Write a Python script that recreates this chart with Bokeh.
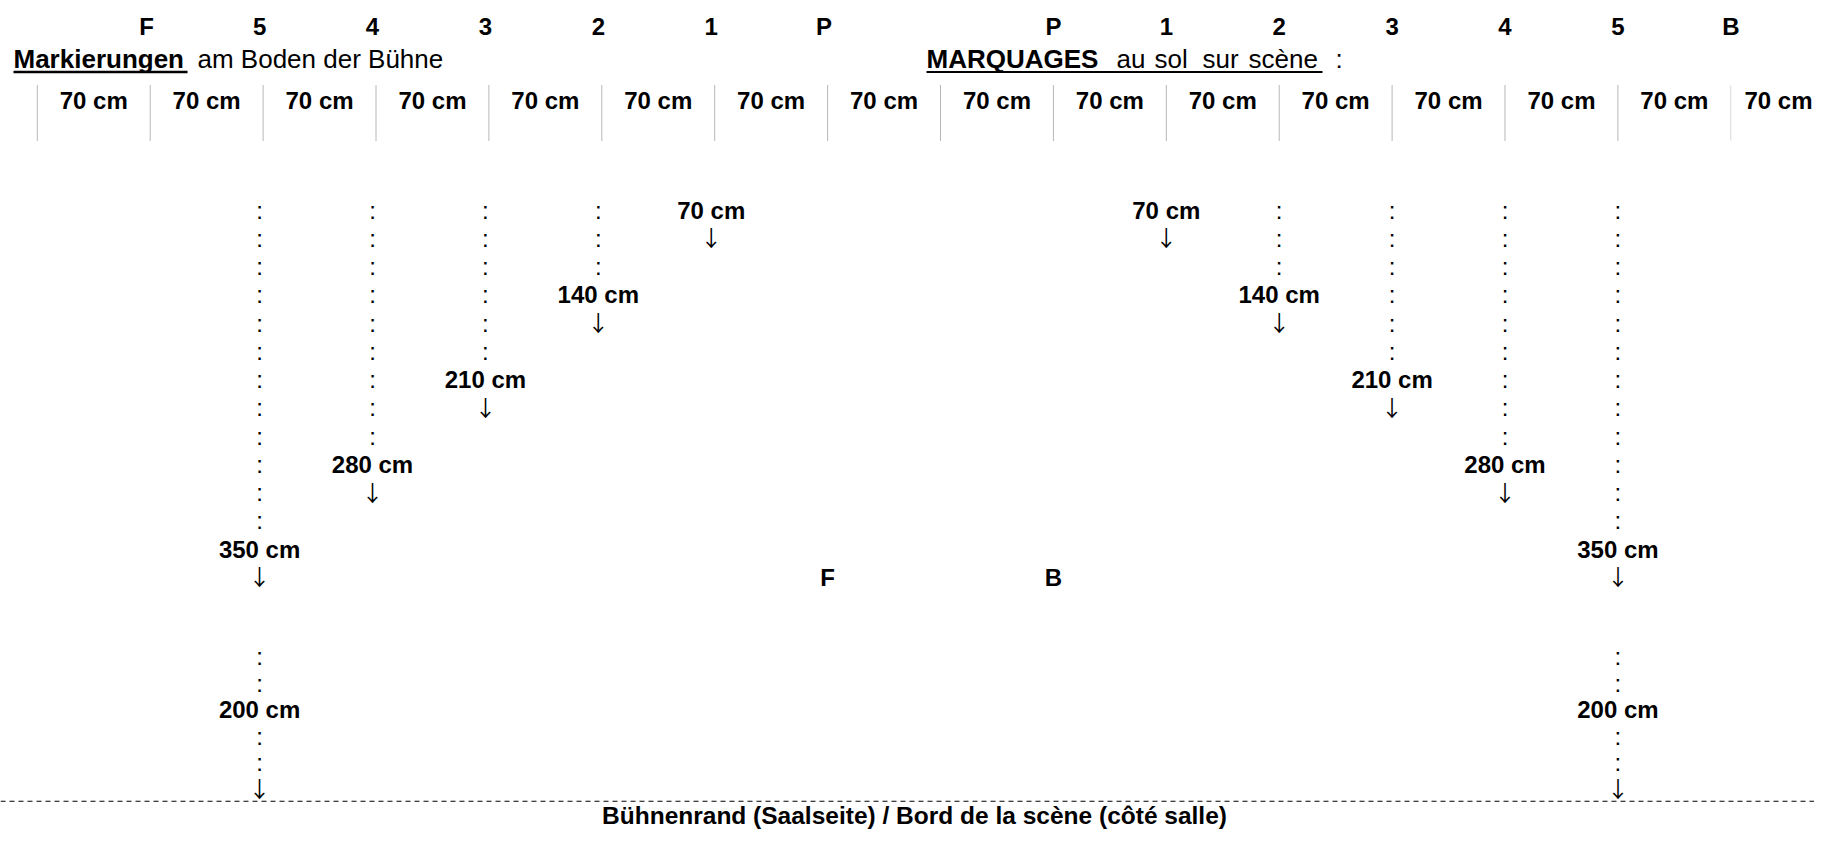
from bokeh.plotting import figure
from bokeh.models import Range1d
from bokeh.core.properties import value
from bokeh.embed import file_html
from bokeh.resources import INLINE

# ---------------- DATA ----------------
segment_cm = 70                       # width of one floor segment
n_segments = 16
segment_labels = ["70 cm"] * n_segments
top_left = ["F", "5", "4", "3", "2", "1", "P"]
top_right = ["P", "1", "2", "3", "4", "5", "B"]
marker_ids = [1, 2, 3, 4, 5]
marker_depth_cm = [70, 140, 210, 280, 350]
front_gap_cm = 200
center_labels = ["F", "B"]
header_de_bold = "Markierungen"
header_de_rest = "am Boden der Bühne"
header_fr_bold = "MARQUAGES"
header_fr_words = ["au", "sol", "sur", "scène"]
footer_text = "Bühnenrand (Saalseite) / Bord de la scène (côté salle)"

# ---------------- LAYOUT ----------------
W, H = 1814, 829
PX_PER_CM = 112.9 / segment_cm
CENTER_PX = 940.0
LEFT_SHIFT = -3.5 / PX_PER_CM          # left-hand column texts sit a little left of the grid


def sx(px):
    """pixel -> cm data coordinate"""
    return (px - CENTER_PX) / PX_PER_CM


ROW0 = 218.0       # baseline of first row under the ruler
ROW_H = 28.25
LOW_ROW = 13       # from this row on, rows are a little tighter
LOW_H = 26.5


def row_base(r):
    if r <= LOW_ROW:
        return ROW0 + ROW_H * r
    return ROW0 + ROW_H * LOW_ROW + LOW_H * (r - LOW_ROW)


FONT = value("Liberation Sans")
ARROW_FONT = value("Noto Sans CJK JP")

p = figure(width=W, height=H, x_range=Range1d(sx(0), sx(W)),
           y_range=Range1d(H, 0), output_backend="svg",
           toolbar_location=None, min_border=0, x_axis_type=None, y_axis_type=None)
p.grid.visible = False
p.outline_line_color = None
p.background_fill_color = "white"
p.border_fill_color = "white"


def txt(xs, bases, texts, size=24, style="bold", align="center", font=FONT):
    ys = [b - 0.35 * size for b in bases]
    p.text(x=xs, y=ys, text=texts, text_font=font, text_font_size=f"{size}px",
           text_font_style=style, text_align=align, text_baseline="middle",
           text_color="black")


# ---- top letter row ----
half = n_segments // 2
left_pos = [-(len(top_left) - j) * segment_cm + LEFT_SHIFT for j in range(len(top_left))]
right_pos = [(j + 1) * segment_cm for j in range(len(top_right))]
txt(left_pos + right_pos, [34] * (len(top_left) + len(top_right)), top_left + top_right)

# ---- header line ----
txt([sx(13)], [68], [header_de_bold], size=26, align="left")
txt([sx(197)], [68], [header_de_rest], size=26, style="normal", align="left")
p.segment(x0=[sx(13)], y0=[71.5], x1=[sx(187)], y1=[71.5], line_color="black", line_width=2.5)

txt([sx(926)], [68], [header_fr_bold], size=26, align="left")
fr_x = [1116, 1154, 1202, 1248]
txt([sx(v) for v in fr_x], [68] * len(header_fr_words), header_fr_words,
    size=26, style="normal", align="left")
txt([sx(1335)], [68], [":"], size=26, style="normal", align="left")
p.segment(x0=[sx(926)], y0=[71.5], x1=[sx(1322)], y1=[71.5], line_color="black", line_width=1.8)

# ---- ruler: separators and segment labels ----
seps = [-half * segment_cm + i * segment_cm for i in range(n_segments)]
p.segment(x0=seps[:-1], y0=[85] * (n_segments - 1), x1=seps[:-1], y1=[140] * (n_segments - 1),
          line_color="#6e6e6e", line_width=1, line_dash="1 1")
p.segment(x0=[seps[-1]], y0=[85], x1=[seps[-1]], y1=[140], line_color="#d9d9d9", line_width=1)
centers = [s + segment_cm / 2 for s in seps]
txt(centers[:-1], [108] * (n_segments - 1), segment_labels[:-1])
# last label pushed against the right edge so that it is not cut
txt([sx(W - 2)], [108], segment_labels[-1:], align="right")

# ---- marker columns ----
colon_x, colon_b = [], []
lab_x, lab_b, lab_t = [], [], []
arr_x, arr_b = [], []
for k, d in zip(marker_ids, marker_depth_cm):
    label_row = 3 * (d // segment_cm - 1)
    for side in (-1, 1):
        cx = side * (d + segment_cm) + (LEFT_SHIFT if side < 0 else 0)
        for r in range(label_row):
            colon_x.append(cx)
            colon_b.append(row_base(r))
        lab_x.append(cx)
        lab_b.append(row_base(label_row))
        lab_t.append(f"{d} cm")
        arr_x.append(cx)
        arr_b.append(row_base(label_row + 1))

# front part (down to the stage edge) on the outer columns
dmax = max(marker_depth_cm)
base_row = 3 * (dmax // segment_cm - 1) + 1
for side in (-1, 1):
    cx = side * (dmax + segment_cm) + (LEFT_SHIFT if side < 0 else 0)
    for r in (3, 4, 6, 7):
        colon_x.append(cx)
        colon_b.append(row_base(base_row + r))
    lab_x.append(cx)
    lab_b.append(row_base(base_row + 5))
    lab_t.append(f"{front_gap_cm} cm")
    arr_x.append(cx)
    arr_b.append(row_base(base_row + 8))

txt(colon_x, colon_b, [":"] * len(colon_x), style="normal")
txt(lab_x, lab_b, lab_t)
# arrows: centred about 10 px above the row baseline
p.text(x=arr_x, y=[b - 10.5 for b in arr_b], text=["↓"] * len(arr_x), text_font=ARROW_FONT,
       text_font_size="22px", text_align="center", text_baseline="middle", text_color="black")

# centre F / B
txt([-segment_cm, segment_cm], [row_base(base_row)] * 2, center_labels)

# ---- stage edge ----
edge_y = row_base(base_row + 8) + 3.5
p.segment(x0=[sx(0)], y0=[edge_y], x1=[sx(W)], y1=[edge_y], line_color="black",
          line_width=1.2, line_dash="5 4")
txt([sx(914)], [edge_y + 23], [footer_text], size=24.5)

open("out.html", "w").write(file_html(p, INLINE))
